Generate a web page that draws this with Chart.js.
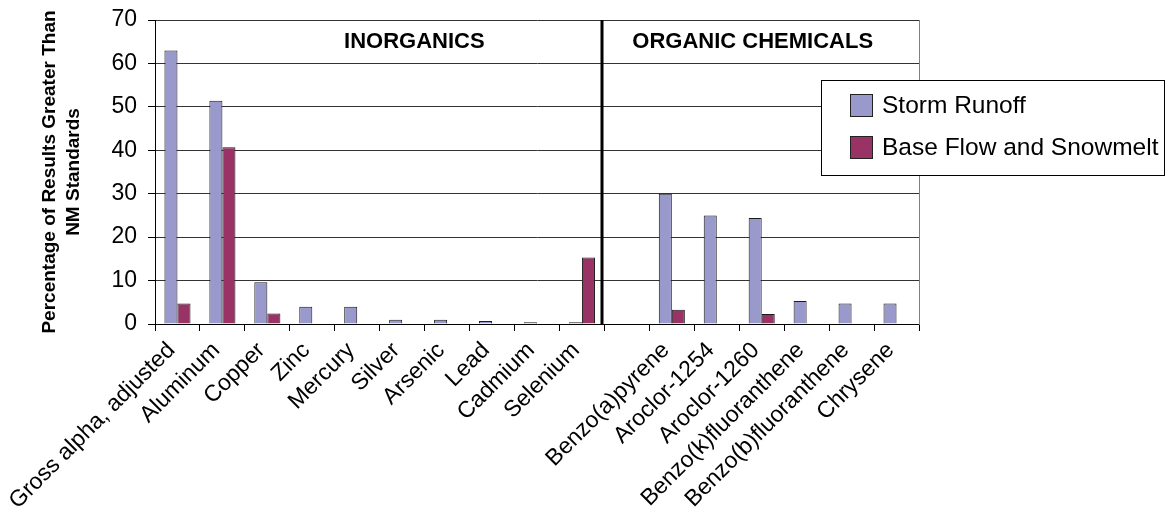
<!DOCTYPE html>
<html>
<head>
<meta charset="utf-8">
<script src="https://cdn.jsdelivr.net/npm/chart.js@4.4.1/dist/chart.umd.min.js"></script>
<style>
  html, body { margin: 0; padding: 0; background: #fff; }
  #wrap { width: 1168px; height: 520px; position: relative; }
  canvas { display: block; }
</style>
</head>
<body>
<div id="wrap"><canvas id="chart" width="1168" height="520"></canvas></div>
<script>
// Analytes on the category axis (blank slot separates the two groups)
const categories = [
  'Gross alpha, adjusted', 'Aluminum', 'Copper', 'Zinc', 'Mercury', 'Silver',
  'Arsenic', 'Lead', 'Cadmium', 'Selenium', '',
  'Benzo(a)pyrene', 'Aroclor-1254', 'Aroclor-1260', 'Benzo(k)fluoranthene',
  'Benzo(b)fluoranthene', 'Chrysene'
];

// Percentage of results greater than NM standards
const stormRunoff = [63.0, 51.4, 9.6, 4.0, 4.0, 1.0, 1.0, 0.7, 0.4, 0.4, null, 30.0, 25.0, 24.4, 5.3, 4.7, 4.7];
const baseFlowSnowmelt = [4.7, 40.7, 2.4, null, null, null, null, null, null, 15.3, null, 3.3, null, 2.3, null, null, null];

const seriesNames = ['Storm Runoff', 'Base Flow and Snowmelt'];
const groupNames = ['INORGANICS', 'ORGANIC CHEMICALS'];
const yTitle = ['Percentage of Results Greater Than', 'NM Standards'];
const yMin = 0, yMax = 70, yStep = 10;

const FONT = "'Liberation Sans', Arial, Helvetica, sans-serif";

// Group headings, separator, right frame line and the boxed legend
const overlay = {
  id: 'overlay',
  afterDraw(chart) {
    const { ctx, chartArea: a, scales: { x, y } } = chart;
    ctx.save();

    // right frame line
    ctx.strokeStyle = '#808080';
    ctx.lineWidth = 1;
    ctx.beginPath();
    ctx.moveTo(Math.round(a.right) + 0.5, a.top);
    ctx.lineTo(Math.round(a.right) + 0.5, a.bottom + 1);
    ctx.stroke();

    // heavy separator between inorganic and organic groups
    const sx = Math.round(x.getPixelForValue(9.5)) - 2;
    ctx.strokeStyle = '#000';
    ctx.lineWidth = 3;
    ctx.beginPath();
    ctx.moveTo(sx, a.top);
    ctx.lineTo(sx, a.bottom);
    ctx.stroke();

    // group headings
    ctx.fillStyle = '#000';
    ctx.font = 'bold 22px ' + FONT;
    ctx.textAlign = 'center';
    ctx.textBaseline = 'middle';
    const hy = y.getPixelForValue(65);
    ctx.fillText(groupNames[0], x.getPixelForValue(5.27), hy);
    ctx.fillText(groupNames[1], x.getPixelForValue(12.8), hy);

    // legend box
    const lx = 821, ly = 80, lw = 343, lh = 95;
    ctx.fillStyle = '#fff';
    ctx.fillRect(lx, ly, lw, lh);
    ctx.strokeStyle = '#000';
    ctx.lineWidth = 1;
    ctx.strokeRect(lx + 0.5, ly + 0.5, lw, lh);
    ctx.font = '24.5px ' + FONT;
    ctx.textAlign = 'left';
    chart.data.datasets.forEach((ds, i) => {
      const ry = 94 + i * 42;
      ctx.fillStyle = ds.backgroundColor;
      ctx.fillRect(850, ry, 23, 23);
      ctx.strokeStyle = '#222';
      ctx.strokeRect(850.5, ry + 0.5, 22, 22);
      ctx.fillStyle = '#000';
      ctx.fillText(ds.label, 882, ry + 12);
    });
    ctx.restore();
  }
};

new Chart(document.getElementById('chart'), {
  type: 'bar',
  data: {
    labels: categories,
    datasets: [
      {
        label: seriesNames[0],
        data: stormRunoff,
        backgroundColor: '#9999CC',
        borderColor: '#1a1a1a',
        borderWidth: 1,
        categoryPercentage: 0.58,
        barPercentage: 1.0
      },
      {
        label: seriesNames[1],
        data: baseFlowSnowmelt,
        backgroundColor: '#993366',
        borderColor: '#1a1a1a',
        borderWidth: 1,
        categoryPercentage: 0.58,
        barPercentage: 1.0
      }
    ]
  },
  options: {
    responsive: false,
    animation: false,
    devicePixelRatio: 1,
    layout: { padding: { top: 20, right: 249, bottom: 0, left: 0 } },
    plugins: {
      legend: { display: false },
      tooltip: { enabled: false }
    },
    scales: {
      x: {
        offset: true,
        grid: {
          offset: true,
          drawOnChartArea: false,
          drawTicks: true,
          tickLength: 7,
          color: '#000'
        },
        border: { display: true, color: '#000', width: 1 },
        ticks: {
          autoSkip: false,
          minRotation: 45,
          maxRotation: 45,
          padding: 6,
          labelOffset: -6,
          color: '#000',
          font: { family: FONT, size: 23 }
        },
        afterFit(scale) { scale.height = 196; }
      },
      y: {
        min: yMin,
        max: yMax,
        ticks: {
          stepSize: yStep,
          padding: 11,
          color: '#000',
          font: { family: FONT, size: 23 }
        },
        grid: {
          color: '#333',
          tickColor: '#000',
          tickLength: 7,
          lineWidth: 1
        },
        border: { display: true, color: '#000', width: 1 },
        title: {
          display: true,
          text: yTitle,
          color: '#000',
          font: { family: FONT, size: 19, weight: 'bold', lineHeight: 1.25 },
          padding: { top: 38, bottom: 0 }
        },
        afterFit(scale) {
          scale.width = 155;
          scale.paddingTop = 0;
          scale.paddingBottom = 0;
        }
      }
    }
  },
  plugins: [overlay]
});
</script>
</body>
</html>
